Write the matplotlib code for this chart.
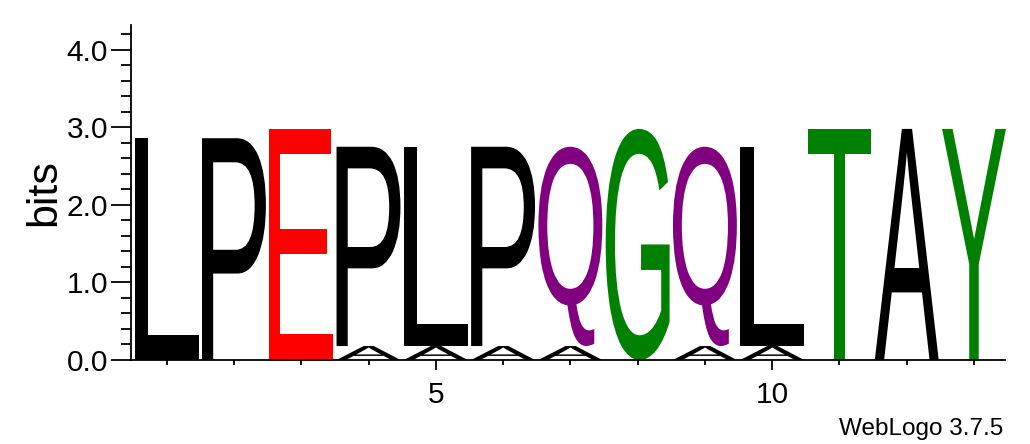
import matplotlib
matplotlib.use("Agg")
import matplotlib.pyplot as plt
from matplotlib.textpath import TextPath
from matplotlib.patches import PathPatch
from matplotlib.font_manager import FontProperties
from matplotlib.transforms import Affine2D
from matplotlib.ticker import FixedLocator, FormatStrFormatter

# sequence logo data, bottom letter first
positions = list(range(1, 14))
top_letters = list("LPEPLPQGQLTAY")
top_bits = [2.86, 2.86, 2.98, 2.57, 2.57, 2.57, 2.57, 2.98, 2.57, 2.57, 2.98, 2.98, 2.98]
low_letters = ["", "", "", "A", "A", "A", "A", "", "A", "A", "", "", ""]
low_bits = [0, 0, 0, 0.18, 0.18, 0.18, 0.18, 0, 0.18, 0.18, 0, 0, 0]

colors = {"L": "black", "P": "black", "A": "black",
          "E": "#ff0000", "G": "#008000", "T": "#008000", "Y": "#008000",
          "Q": "#800080"}

glyph_font = FontProperties(family="Liberation Sans", weight="normal")
plt.rcParams["font.family"] = ["Liberation Sans", "DejaVu Sans"]


def draw_letter(ax, ch, x, y0, h, width=0.95):
    # glyph stretched to fill its box in data coordinates
    tp = TextPath((0, 0), ch, size=1, prop=glyph_font)
    bb = tp.get_extents()
    tr = (Affine2D().translate(-bb.x0, -bb.y0)
          .scale(width / bb.width, h / bb.height)
          .translate(x - width / 2, y0))
    path = tr.transform_path(tp)
    ax.add_patch(PathPatch(path, fc=colors[ch], ec="none", lw=0, clip_on=False))


fig = plt.figure(figsize=(10.30, 4.44), dpi=100)
ax = fig.add_axes([131 / 1030, 84 / 444, (1005 - 131) / 1030, (360 - 25) / 444])

for x, lt, bt, ll, bl in zip(positions, top_letters, top_bits, low_letters, low_bits):
    y = 0
    if ll:
        draw_letter(ax, ll, x, y, bl)
        y += bl
    draw_letter(ax, lt, x, y, bt)

ax.set_xlim(0.47, 13.46)
ax.set_ylim(0, 4.32)

for s in ("top", "right"):
    ax.spines[s].set_visible(False)
for s in ("left", "bottom"):
    ax.spines[s].set_linewidth(1.3)

ax.yaxis.set_major_locator(FixedLocator([0, 1, 2, 3, 4]))
ax.yaxis.set_minor_locator(FixedLocator([i * 0.2 for i in range(22)]))
ax.yaxis.set_major_formatter(FormatStrFormatter("%.1f"))
ax.xaxis.set_major_locator(FixedLocator([5, 10]))
ax.xaxis.set_minor_locator(FixedLocator(positions))

ax.tick_params(axis="y", which="major", length=14.5, width=1.3, labelsize=21.5, pad=2)
ax.tick_params(axis="y", which="minor", length=7, width=1.3)
ax.tick_params(axis="x", which="major", length=7, width=1.3, labelsize=21.5, pad=8)
ax.tick_params(axis="x", which="minor", length=3.5, width=1.3)

ax.set_ylabel("bits", fontsize=31, labelpad=2)

fig.text(1003 / 1030, 1 - 435 / 444, "WebLogo 3.7.5", fontsize=17.5, ha="right", va="baseline")

fig.savefig("out.png", dpi=100)
